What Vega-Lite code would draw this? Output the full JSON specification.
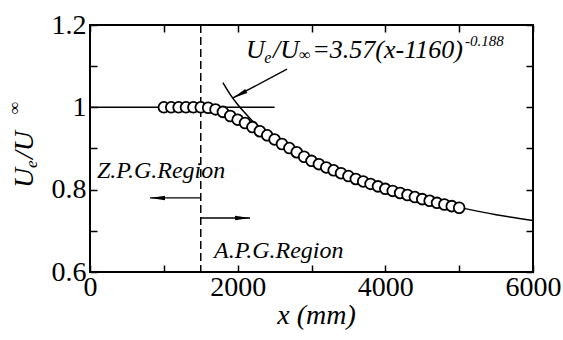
{
  "$schema": "https://vega.github.io/schema/vega-lite/v6.json",
  "width": 443,
  "height": 247,
  "autosize": {"type": "none"},
  "padding": {"left": 90, "top": 25, "right": 30, "bottom": 68},
  "background": "white",
  "config": {
    "view": {"stroke": "black", "strokeWidth": 2},
    "font": "Liberation Serif, Times New Roman, DejaVu Serif, serif"
  },
  "datasets": {
    "measured": [
      {"x": 1000, "u": 1.000}, {"x": 1100, "u": 1.000}, {"x": 1200, "u": 1.000},
      {"x": 1300, "u": 1.000}, {"x": 1400, "u": 1.000}, {"x": 1500, "u": 1.000},
      {"x": 1600, "u": 0.999}, {"x": 1700, "u": 0.995}, {"x": 1800, "u": 0.989},
      {"x": 1900, "u": 0.979}, {"x": 2000, "u": 0.970}, {"x": 2100, "u": 0.962},
      {"x": 2200, "u": 0.952}, {"x": 2300, "u": 0.942}, {"x": 2400, "u": 0.932},
      {"x": 2500, "u": 0.922}, {"x": 2600, "u": 0.911}, {"x": 2700, "u": 0.901},
      {"x": 2800, "u": 0.891}, {"x": 2900, "u": 0.880}, {"x": 3000, "u": 0.870},
      {"x": 3100, "u": 0.862}, {"x": 3200, "u": 0.854}, {"x": 3300, "u": 0.847},
      {"x": 3400, "u": 0.840}, {"x": 3500, "u": 0.833}, {"x": 3600, "u": 0.826},
      {"x": 3700, "u": 0.820}, {"x": 3800, "u": 0.814}, {"x": 3900, "u": 0.808},
      {"x": 4000, "u": 0.802}, {"x": 4100, "u": 0.797}, {"x": 4200, "u": 0.792},
      {"x": 4300, "u": 0.787}, {"x": 4400, "u": 0.782}, {"x": 4500, "u": 0.777},
      {"x": 4600, "u": 0.773}, {"x": 4700, "u": 0.768}, {"x": 4800, "u": 0.764},
      {"x": 4900, "u": 0.760}, {"x": 5000, "u": 0.756}
    ],
    "powerFit": [
      {"x": 1800, "u": 1.060}, {"x": 1900, "u": 1.031}, {"x": 2000, "u": 1.007},
      {"x": 2100, "u": 0.986}, {"x": 2200, "u": 0.967}, {"x": 2300, "u": 0.951},
      {"x": 2400, "u": 0.936}, {"x": 2600, "u": 0.910}, {"x": 2800, "u": 0.888},
      {"x": 3000, "u": 0.869}, {"x": 3250, "u": 0.848}, {"x": 3500, "u": 0.831},
      {"x": 4000, "u": 0.801}, {"x": 4500, "u": 0.777}, {"x": 5000, "u": 0.757},
      {"x": 5500, "u": 0.739}, {"x": 6000, "u": 0.725}
    ],
    "zpgLevel": [{"x": 0, "u": 1.0}, {"x": 2500, "u": 1.0}],
    "arrowShafts": [
      {"a": "zpg", "x": 1500, "u": 0.780}, {"a": "zpg", "x": 813, "u": 0.780},
      {"a": "apg", "x": 1500, "u": 0.731}, {"a": "apg", "x": 2167, "u": 0.731},
      {"a": "fit", "x": 2668, "u": 1.093}, {"a": "fit", "x": 1937, "u": 1.0227}
    ],
    "yTitleMain": [
      {"t": "U", "x": -772, "u": 0.804},
      {"t": "/U", "x": -772, "u": 0.8745}
    ],
    "yTitleSub": [
      {"t": "e", "x": -718, "u": 0.8526},
      {"t": "∞", "x": -948, "u": 0.9838}
    ],
    "eqMain": [
      {"t": "U", "x": 2113, "u": 1.1198},
      {"t": "/U", "x": 2480, "u": 1.1198},
      {"t": "=3.57(x-1160)", "x": 3010, "u": 1.1198}
    ],
    "eqSub": [
      {"t": "e", "x": 2360, "u": 1.1077},
      {"t": "∞", "x": 2830, "u": 1.115}
    ],
    "eqExp": [{"t": "-0.188", "x": 5079, "u": 1.149}],
    "regions": [
      {"t": "Z.P.G.Region", "x": 95, "u": 0.8283},
      {"t": "A.P.G.Region", "x": 1679, "u": 0.634}
    ]
  },
  "resolve": {"axis": {"x": "independent", "y": "independent"}},
  "layer": [
    {
      "data": {"values": [{"x": 1500}]},
      "mark": {"type": "rule", "color": "black", "strokeWidth": 1.5, "strokeDash": [8, 4]},
      "encoding": {
        "x": {"field": "x", "type": "quantitative", "scale": {"domain": [0, 6000], "nice": false, "zero": false}, "axis": null}
      }
    },
    {
      "data": {"name": "zpgLevel"},
      "mark": {"type": "line", "color": "black", "strokeWidth": 1.5},
      "encoding": {
        "x": {"field": "x", "type": "quantitative", "axis": null},
        "y": {"field": "u", "type": "quantitative", "scale": {"domain": [0.6, 1.2], "nice": false, "zero": false}, "axis": null}
      }
    },
    {
      "data": {"name": "powerFit"},
      "mark": {"type": "line", "color": "black", "strokeWidth": 1.5, "interpolate": "monotone"},
      "encoding": {
        "x": {"field": "x", "type": "quantitative",
          "axis": {"orient": "top", "values": [0, 1000, 2000, 3000, 4000, 5000, 6000], "labels": false, "domain": false, "grid": false, "tickSize": -7, "tickWidth": 1.5, "tickColor": "black", "title": null}},
        "y": {"field": "u", "type": "quantitative",
          "axis": {"orient": "right", "values": [0.6, 0.7, 0.8, 0.9, 1.0, 1.1, 1.2], "labels": false, "domain": false, "grid": false, "tickSize": -7, "tickWidth": 1.5, "tickColor": "black", "title": null}}
      }
    },
    {
      "data": {"name": "arrowShafts"},
      "mark": {"type": "line", "color": "black", "strokeWidth": 1.4},
      "encoding": {
        "x": {"field": "x", "type": "quantitative", "axis": null},
        "y": {"field": "u", "type": "quantitative", "axis": null},
        "detail": {"field": "a"}
      }
    },
    {
      "data": {"name": "arrowShafts"},
      "transform": [{"filter": "datum.a === 'zpg' && datum.x < 1000"}],
      "mark": {"type": "point", "shape": "M0,0L0.3,2L-0.3,2Z", "filled": true, "color": "black", "opacity": 1, "size": 225, "angle": 270},
      "encoding": {
        "x": {"field": "x", "type": "quantitative", "axis": null},
        "y": {"field": "u", "type": "quantitative", "axis": null}
      }
    },
    {
      "data": {"name": "arrowShafts"},
      "transform": [{"filter": "datum.a === 'apg' && datum.x > 2000"}],
      "mark": {"type": "point", "shape": "M0,0L0.3,2L-0.3,2Z", "filled": true, "color": "black", "opacity": 1, "size": 225, "angle": 90},
      "encoding": {
        "x": {"field": "x", "type": "quantitative", "axis": null},
        "y": {"field": "u", "type": "quantitative", "axis": null}
      }
    },
    {
      "data": {"name": "arrowShafts"},
      "transform": [{"filter": "datum.a === 'fit' && datum.x < 2000"}],
      "mark": {"type": "point", "shape": "M0,0L0.3,2L-0.3,2Z", "filled": true, "color": "black", "opacity": 1, "size": 225, "angle": 242},
      "encoding": {
        "x": {"field": "x", "type": "quantitative", "axis": null},
        "y": {"field": "u", "type": "quantitative", "axis": null}
      }
    },
    {
      "data": {"name": "measured"},
      "mark": {"type": "point", "shape": "circle", "filled": false, "fill": "white", "fillOpacity": 1, "stroke": "black", "strokeWidth": 1.8, "opacity": 1, "size": 115},
      "encoding": {
        "x": {"field": "x", "type": "quantitative",
          "axis": {"orient": "bottom", "values": [0, 1000, 2000, 3000, 4000, 5000, 6000], "format": "d",
            "labelExpr": "datum.value % 2000 === 0 ? datum.label : ''",
            "domain": false, "grid": false, "tickSize": -7, "tickWidth": 1.5, "tickColor": "black",
            "labelPadding": 8, "labelFont": "Liberation Serif, Times New Roman, DejaVu Serif, serif", "labelFontSize": 28, "labelColor": "black",
            "labelFlush": false, "labelOverlap": false, "labelBound": false,
            "title": "x (mm)", "titleFont": "Liberation Serif, Times New Roman, DejaVu Serif, serif", "titleFontStyle": "italic", "titleFontWeight": "normal",
            "titleFontSize": 28, "titleColor": "black", "titleBaseline": "alphabetic", "titleY": 51, "titleX": 226}},
        "y": {"field": "u", "type": "quantitative",
          "axis": {"orient": "left", "values": [0.6, 0.7, 0.8, 0.9, 1.0, 1.1, 1.2],
            "labelExpr": "round(datum.value * 10) % 2 === 0 ? format(datum.value, '.2~f') : ''",
            "domain": false, "grid": false, "tickSize": -7, "tickWidth": 1.5, "tickColor": "black",
            "labelPadding": 11, "labelFont": "Liberation Serif, Times New Roman, DejaVu Serif, serif", "labelFontSize": 28, "labelColor": "black",
            "labelFlush": false, "labelOverlap": false, "labelBound": false, "title": null}}
      }
    },
    {
      "data": {"name": "yTitleMain"},
      "mark": {"type": "text", "font": "Liberation Serif, Times New Roman, DejaVu Serif, serif", "fontStyle": "italic", "fontSize": 28, "angle": 270, "align": "left", "baseline": "alphabetic", "color": "black"},
      "encoding": {
        "x": {"field": "x", "type": "quantitative", "axis": null},
        "y": {"field": "u", "type": "quantitative", "axis": null},
        "text": {"field": "t"}
      }
    },
    {
      "data": {"name": "yTitleSub"},
      "mark": {"type": "text", "font": "Liberation Serif, Times New Roman, DejaVu Serif, serif", "fontStyle": "italic", "fontSize": 17, "angle": 270, "align": "left", "baseline": "alphabetic", "color": "black"},
      "encoding": {
        "x": {"field": "x", "type": "quantitative", "axis": null},
        "y": {"field": "u", "type": "quantitative", "axis": null},
        "text": {"field": "t"}
      }
    },
    {
      "data": {"name": "eqMain"},
      "mark": {"type": "text", "font": "Liberation Serif, Times New Roman, DejaVu Serif, serif", "fontStyle": "italic", "fontSize": 26, "align": "left", "baseline": "alphabetic", "color": "black"},
      "encoding": {
        "x": {"field": "x", "type": "quantitative", "axis": null},
        "y": {"field": "u", "type": "quantitative", "axis": null},
        "text": {"field": "t"}
      }
    },
    {
      "data": {"name": "eqSub"},
      "mark": {"type": "text", "font": "Liberation Serif, Times New Roman, DejaVu Serif, serif", "fontStyle": "italic", "fontSize": 16, "align": "left", "baseline": "alphabetic", "color": "black"},
      "encoding": {
        "x": {"field": "x", "type": "quantitative", "axis": null},
        "y": {"field": "u", "type": "quantitative", "axis": null},
        "text": {"field": "t"}
      }
    },
    {
      "data": {"name": "eqExp"},
      "mark": {"type": "text", "font": "Liberation Serif, Times New Roman, DejaVu Serif, serif", "fontStyle": "italic", "fontSize": 15, "align": "left", "baseline": "alphabetic", "color": "black"},
      "encoding": {
        "x": {"field": "x", "type": "quantitative", "axis": null},
        "y": {"field": "u", "type": "quantitative", "axis": null},
        "text": {"field": "t"}
      }
    },
    {
      "data": {"name": "regions"},
      "mark": {"type": "text", "font": "Liberation Serif, Times New Roman, DejaVu Serif, serif", "fontStyle": "italic", "fontSize": 24, "align": "left", "baseline": "alphabetic", "color": "black"},
      "encoding": {
        "x": {"field": "x", "type": "quantitative", "axis": null},
        "y": {"field": "u", "type": "quantitative", "axis": null},
        "text": {"field": "t"}
      }
    }
  ]
}
